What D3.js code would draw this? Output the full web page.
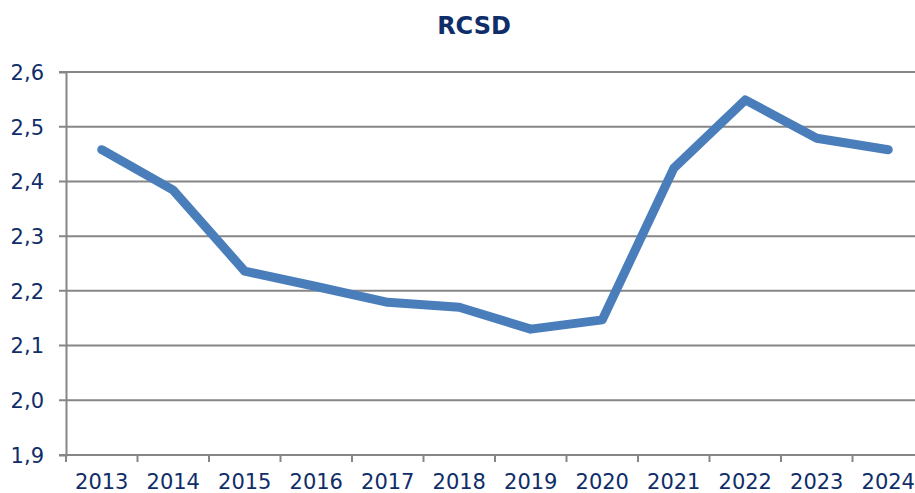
<!DOCTYPE html>
<html>
<head>
<meta charset="utf-8">
<script src="https://cdn.jsdelivr.net/npm/d3@7"></script>
<style>
  body { margin: 0; background: #fff; }
  svg { display: block; font-family: "DejaVu Sans", Verdana, sans-serif; }
</style>
</head>
<body>
<svg id="chart"></svg>
<script>
const years = ["2013", "2014", "2015", "2016", "2017", "2018", "2019", "2020", "2021", "2022", "2023", "2024"];
const rcsd = [2.458, 2.384, 2.236, 2.208, 2.179, 2.170, 2.130, 2.147, 2.424, 2.549, 2.479, 2.458];
const yTicks = [1.9, 2.0, 2.1, 2.2, 2.3, 2.4, 2.5, 2.6];
const title = "RCSD";

const width = 915;
const height = 493;
const margin = { top: 72, right: -9, bottom: 38, left: 66 };
const textColor = "#0f2d69";
const gridColor = "#868686";
const fontFamily = "'DejaVu Sans', Verdana, sans-serif";

const svgWidth = width - margin.left - margin.right;
const svgHeight = height - margin.top - margin.bottom;

const data = years.map((y, i) => ({ year: y, value: rcsd[i] }));

// X scale (years)
const x = d3.scaleBand().domain(years).range([0, svgWidth]);

// Y scale (values)
const y = d3.scaleLinear().domain([1.9, 2.6]).range([svgHeight, 0]);

const svg = d3.select("#chart").attr("width", width).attr("height", height);

// Title
svg.append("text")
    .attr("x", 474)
    .attr("y", 34)
    .attr("text-anchor", "middle")
    .attr("fill", textColor)
    .style("font-family", fontFamily)
    .style("font-size", "24px")
    .style("font-weight", "bold")
    .text(title);

const g = svg.append("g").attr("transform", `translate(${margin.left},${margin.top})`);

// Gridlines
g.append("g")
    .selectAll("line")
    .data(yTicks)
    .enter()
    .append("line")
    .attr("x1", -7)
    .attr("x2", svgWidth)
    .attr("y1", d => y(d))
    .attr("y2", d => y(d))
    .attr("stroke", gridColor)
    .attr("stroke-width", 2);

// Y axis
const fmt = d => d3.format(".1f")(d).replace(".", ",");
const yAxis = g.append("g")
    .call(d3.axisLeft(y).tickValues(yTicks).tickFormat(fmt).tickSize(7).tickPadding(15))
    .attr("font-family", fontFamily);
yAxis.select(".domain").attr("stroke", gridColor).attr("stroke-width", 2);
yAxis.selectAll(".tick line").remove();
yAxis.selectAll("text").attr("fill", textColor).style("font-size", "21px").attr("dy", "0.35em");

// X axis
const xAxis = g.append("g")
    .attr("transform", `translate(0,${svgHeight})`)
    .call(d3.axisBottom(x).tickSize(0).tickPadding(19))
    .attr("font-family", fontFamily);
xAxis.select(".domain").remove();
xAxis.selectAll("text").attr("fill", textColor).style("font-size", "21px");

// Tick marks at category boundaries
g.append("g")
    .selectAll("line")
    .data(years)
    .enter()
    .append("line")
    .attr("x1", d => x(d))
    .attr("x2", d => x(d))
    .attr("y1", svgHeight)
    .attr("y2", svgHeight + 7)
    .attr("stroke", gridColor)
    .attr("stroke-width", 2);

// Line
const line = d3.line()
    .x(d => x(d.year) + x.bandwidth() / 2)
    .y(d => y(d.value));

g.append("path")
    .datum(data)
    .attr("d", line)
    .attr("fill", "none")
    .attr("stroke", "#4a7ebb")
    .attr("stroke-width", 9)
    .attr("stroke-linecap", "round")
    .attr("stroke-linejoin", "round");
</script>
</body>
</html>
